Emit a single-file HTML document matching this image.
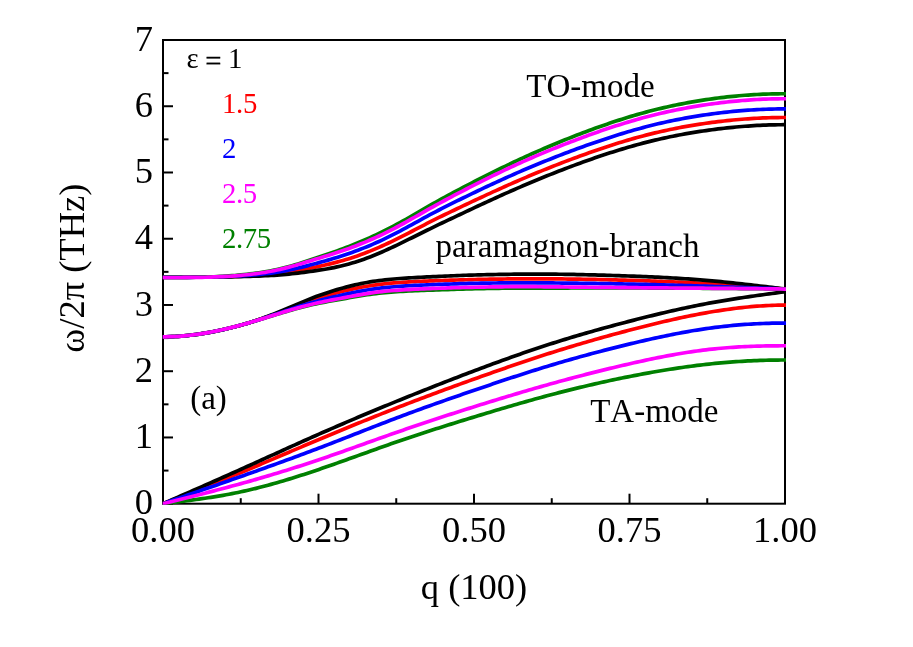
<!DOCTYPE html>
<html>
<head>
<meta charset="utf-8">
<title>Dispersion</title>
<style>
html,body{margin:0;padding:0;background:#ffffff;}
body{width:913px;height:647px;overflow:hidden;}
svg{display:block;will-change:transform;}
text{font-family:"Liberation Serif",serif;font-kerning:none;fill:#000;}
.tick{font-size:36.5px;}
.leg{font-size:28.8px;letter-spacing:-0.35px;}
.ann{font-size:33px;}
.ttl{font-size:36.5px;}
.curves path{fill:none;stroke-width:3.7;stroke-linejoin:round;stroke-linecap:butt;}
.ticks line{stroke:#000;stroke-width:2;}
</style>
</head>
<body>
<svg width="913" height="647" viewBox="0 0 913 647">
<rect x="0" y="0" width="913" height="647" fill="#ffffff"/>
<defs><clipPath id="clip"><rect x="162.8" y="39.0" width="623.3" height="465.7"/></clipPath></defs>
<rect x="163.0" y="40.0" width="622.0" height="463.7" fill="none" stroke="#000" stroke-width="2"/>
<g class="ticks">
<line x1="163.0" y1="503.70" x2="173.0" y2="503.70"/>
<line x1="163.0" y1="470.58" x2="168.5" y2="470.58"/>
<line x1="163.0" y1="437.46" x2="173.0" y2="437.46"/>
<line x1="163.0" y1="404.34" x2="168.5" y2="404.34"/>
<line x1="163.0" y1="371.21" x2="173.0" y2="371.21"/>
<line x1="163.0" y1="338.09" x2="168.5" y2="338.09"/>
<line x1="163.0" y1="304.97" x2="173.0" y2="304.97"/>
<line x1="163.0" y1="271.85" x2="168.5" y2="271.85"/>
<line x1="163.0" y1="238.73" x2="173.0" y2="238.73"/>
<line x1="163.0" y1="205.61" x2="168.5" y2="205.61"/>
<line x1="163.0" y1="172.49" x2="173.0" y2="172.49"/>
<line x1="163.0" y1="139.36" x2="168.5" y2="139.36"/>
<line x1="163.0" y1="106.24" x2="173.0" y2="106.24"/>
<line x1="163.0" y1="73.12" x2="168.5" y2="73.12"/>
<line x1="163.0" y1="40.00" x2="173.0" y2="40.00"/>
<line x1="163.00" y1="503.7" x2="163.00" y2="493.7"/>
<line x1="240.75" y1="503.7" x2="240.75" y2="498.2"/>
<line x1="318.50" y1="503.7" x2="318.50" y2="493.7"/>
<line x1="396.25" y1="503.7" x2="396.25" y2="498.2"/>
<line x1="474.00" y1="503.7" x2="474.00" y2="493.7"/>
<line x1="551.75" y1="503.7" x2="551.75" y2="498.2"/>
<line x1="629.50" y1="503.7" x2="629.50" y2="493.7"/>
<line x1="707.25" y1="503.7" x2="707.25" y2="498.2"/>
<line x1="785.00" y1="503.7" x2="785.00" y2="493.7"/>
</g>
<g class="curves" clip-path="url(#clip)">
<path d="M162.0,503.70 L163.0,503.70 L166.0,502.52 L169.0,501.33 L172.0,500.15 L175.0,498.97 L178.0,497.78 L181.0,496.59 L184.0,495.41 L187.0,494.22 L190.0,493.03 L193.0,491.84 L196.0,490.65 L199.0,489.45 L202.0,488.26 L205.0,487.06 L208.0,485.85 L211.0,484.65 L214.0,483.44 L217.0,482.24 L220.0,481.02 L223.0,479.81 L226.0,478.59 L229.0,477.37 L232.0,476.14 L235.0,474.91 L238.0,473.67 L241.0,472.43 L244.0,471.19 L247.0,469.94 L250.0,468.69 L253.0,467.44 L256.0,466.18 L259.0,464.92 L262.0,463.65 L265.0,462.39 L268.0,461.12 L271.0,459.85 L274.0,458.58 L277.0,457.30 L280.0,456.03 L283.0,454.75 L286.0,453.48 L289.0,452.20 L292.0,450.92 L295.0,449.65 L298.0,448.37 L301.0,447.09 L304.0,445.82 L307.0,444.55 L310.0,443.28 L313.0,442.01 L316.0,440.74 L319.0,439.47 L322.0,438.21 L325.0,436.95 L328.0,435.70 L331.0,434.44 L334.0,433.19 L337.0,431.94 L340.0,430.70 L343.0,429.46 L346.0,428.22 L349.0,426.99 L352.0,425.76 L355.0,424.53 L358.0,423.31 L361.0,422.09 L364.0,420.87 L367.0,419.66 L370.0,418.45 L373.0,417.24 L376.0,416.04 L379.0,414.85 L382.0,413.65 L385.0,412.47 L388.0,411.28 L391.0,410.10 L394.0,408.93 L397.0,407.76 L400.0,406.59 L403.0,405.43 L406.0,404.27 L409.0,403.12 L412.0,401.97 L415.0,400.83 L418.0,399.69 L421.0,398.56 L424.0,397.43 L427.0,396.30 L430.0,395.17 L433.0,394.05 L436.0,392.94 L439.0,391.83 L442.0,390.72 L445.0,389.61 L448.0,388.51 L451.0,387.41 L454.0,386.31 L457.0,385.22 L460.0,384.13 L463.0,383.04 L466.0,381.96 L469.0,380.88 L472.0,379.80 L475.0,378.72 L478.0,377.65 L481.0,376.58 L484.0,375.51 L487.0,374.45 L490.0,373.39 L493.0,372.33 L496.0,371.27 L499.0,370.22 L502.0,369.18 L505.0,368.13 L508.0,367.10 L511.0,366.06 L514.0,365.04 L517.0,364.01 L520.0,362.99 L523.0,361.98 L526.0,360.97 L529.0,359.97 L532.0,358.97 L535.0,357.98 L538.0,357.00 L541.0,356.02 L544.0,355.05 L547.0,354.09 L550.0,353.13 L553.0,352.18 L556.0,351.23 L559.0,350.30 L562.0,349.37 L565.0,348.45 L568.0,347.53 L571.0,346.62 L574.0,345.72 L577.0,344.83 L580.0,343.94 L583.0,343.06 L586.0,342.18 L589.0,341.31 L592.0,340.45 L595.0,339.59 L598.0,338.74 L601.0,337.90 L604.0,337.06 L607.0,336.23 L610.0,335.40 L613.0,334.58 L616.0,333.77 L619.0,332.96 L622.0,332.15 L625.0,331.36 L628.0,330.56 L631.0,329.78 L634.0,329.00 L637.0,328.22 L640.0,327.45 L643.0,326.69 L646.0,325.93 L649.0,325.18 L652.0,324.44 L655.0,323.71 L658.0,322.98 L661.0,322.27 L664.0,321.56 L667.0,320.86 L670.0,320.18 L673.0,319.50 L676.0,318.83 L679.0,318.18 L682.0,317.53 L685.0,316.90 L688.0,316.28 L691.0,315.67 L694.0,315.07 L697.0,314.49 L700.0,313.92 L703.0,313.37 L706.0,312.82 L709.0,312.30 L712.0,311.79 L715.0,311.29 L718.0,310.81 L721.0,310.34 L724.0,309.90 L727.0,309.47 L730.0,309.05 L733.0,308.66 L736.0,308.28 L739.0,307.92 L742.0,307.59 L745.0,307.27 L748.0,306.97 L751.0,306.69 L754.0,306.44 L757.0,306.20 L760.0,305.99 L763.0,305.80 L766.0,305.63 L769.0,305.48 L772.0,305.36 L775.0,305.27 L778.0,305.20 L781.0,305.15 L784.0,305.13 L785.0,305.13 L786.0,305.13" stroke="#ff0000"/>
<path d="M162.0,503.70 L163.0,503.70 L166.0,502.39 L169.0,501.07 L172.0,499.76 L175.0,498.45 L178.0,497.13 L181.0,495.82 L184.0,494.50 L187.0,493.19 L190.0,491.87 L193.0,490.55 L196.0,489.23 L199.0,487.91 L202.0,486.59 L205.0,485.27 L208.0,483.95 L211.0,482.62 L214.0,481.29 L217.0,479.96 L220.0,478.63 L223.0,477.30 L226.0,475.97 L229.0,474.63 L232.0,473.29 L235.0,471.95 L238.0,470.60 L241.0,469.26 L244.0,467.91 L247.0,466.56 L250.0,465.20 L253.0,463.85 L256.0,462.49 L259.0,461.13 L262.0,459.77 L265.0,458.41 L268.0,457.05 L271.0,455.69 L274.0,454.33 L277.0,452.97 L280.0,451.61 L283.0,450.25 L286.0,448.89 L289.0,447.54 L292.0,446.18 L295.0,444.83 L298.0,443.48 L301.0,442.14 L304.0,440.79 L307.0,439.45 L310.0,438.11 L313.0,436.78 L316.0,435.45 L319.0,434.13 L322.0,432.81 L325.0,431.49 L328.0,430.18 L331.0,428.88 L334.0,427.58 L337.0,426.28 L340.0,424.99 L343.0,423.70 L346.0,422.41 L349.0,421.13 L352.0,419.86 L355.0,418.59 L358.0,417.32 L361.0,416.05 L364.0,414.79 L367.0,413.54 L370.0,412.28 L373.0,411.04 L376.0,409.79 L379.0,408.55 L382.0,407.31 L385.0,406.07 L388.0,404.84 L391.0,403.61 L394.0,402.39 L397.0,401.16 L400.0,399.94 L403.0,398.73 L406.0,397.51 L409.0,396.30 L412.0,395.10 L415.0,393.89 L418.0,392.69 L421.0,391.50 L424.0,390.30 L427.0,389.11 L430.0,387.92 L433.0,386.74 L436.0,385.56 L439.0,384.38 L442.0,383.21 L445.0,382.04 L448.0,380.87 L451.0,379.71 L454.0,378.55 L457.0,377.40 L460.0,376.25 L463.0,375.10 L466.0,373.96 L469.0,372.82 L472.0,371.68 L475.0,370.55 L478.0,369.42 L481.0,368.30 L484.0,367.18 L487.0,366.06 L490.0,364.95 L493.0,363.85 L496.0,362.75 L499.0,361.65 L502.0,360.56 L505.0,359.48 L508.0,358.40 L511.0,357.33 L514.0,356.27 L517.0,355.21 L520.0,354.16 L523.0,353.12 L526.0,352.08 L529.0,351.05 L532.0,350.03 L535.0,349.02 L538.0,348.02 L541.0,347.02 L544.0,346.03 L547.0,345.05 L550.0,344.08 L553.0,343.12 L556.0,342.17 L559.0,341.23 L562.0,340.29 L565.0,339.37 L568.0,338.45 L571.0,337.54 L574.0,336.64 L577.0,335.75 L580.0,334.87 L583.0,333.99 L586.0,333.12 L589.0,332.26 L592.0,331.41 L595.0,330.56 L598.0,329.72 L601.0,328.89 L604.0,328.06 L607.0,327.24 L610.0,326.42 L613.0,325.61 L616.0,324.81 L619.0,324.01 L622.0,323.22 L625.0,322.43 L628.0,321.65 L631.0,320.87 L634.0,320.10 L637.0,319.33 L640.0,318.57 L643.0,317.81 L646.0,317.06 L649.0,316.32 L652.0,315.58 L655.0,314.85 L658.0,314.13 L661.0,313.41 L664.0,312.71 L667.0,312.01 L670.0,311.31 L673.0,310.63 L676.0,309.95 L679.0,309.29 L682.0,308.63 L685.0,307.99 L688.0,307.35 L691.0,306.72 L694.0,306.11 L697.0,305.50 L700.0,304.91 L703.0,304.32 L706.0,303.75 L709.0,303.19 L712.0,302.65 L715.0,302.11 L718.0,301.58 L721.0,301.07 L724.0,300.57 L727.0,300.07 L730.0,299.59 L733.0,299.11 L736.0,298.64 L739.0,298.18 L742.0,297.72 L745.0,297.28 L748.0,296.83 L751.0,296.40 L754.0,295.97 L757.0,295.54 L760.0,295.12 L763.0,294.71 L766.0,294.29 L769.0,293.88 L772.0,293.48 L775.0,293.07 L778.0,292.67 L781.0,292.26 L784.0,291.86 L785.0,291.73 L786.0,291.73" stroke="#000000"/>
<path d="M162.0,503.70 L163.0,503.70 L166.0,502.66 L169.0,501.61 L172.0,500.57 L175.0,499.53 L178.0,498.48 L181.0,497.44 L184.0,496.39 L187.0,495.35 L190.0,494.30 L193.0,493.26 L196.0,492.21 L199.0,491.17 L202.0,490.12 L205.0,489.07 L208.0,488.02 L211.0,486.98 L214.0,485.93 L217.0,484.88 L220.0,483.83 L223.0,482.77 L226.0,481.72 L229.0,480.67 L232.0,479.61 L235.0,478.56 L238.0,477.50 L241.0,476.45 L244.0,475.39 L247.0,474.33 L250.0,473.27 L253.0,472.20 L256.0,471.14 L259.0,470.07 L262.0,469.00 L265.0,467.93 L268.0,466.86 L271.0,465.78 L274.0,464.70 L277.0,463.62 L280.0,462.54 L283.0,461.45 L286.0,460.36 L289.0,459.26 L292.0,458.16 L295.0,457.06 L298.0,455.95 L301.0,454.84 L304.0,453.72 L307.0,452.60 L310.0,451.48 L313.0,450.35 L316.0,449.21 L319.0,448.07 L322.0,446.93 L325.0,445.78 L328.0,444.62 L331.0,443.46 L334.0,442.30 L337.0,441.13 L340.0,439.96 L343.0,438.79 L346.0,437.62 L349.0,436.44 L352.0,435.27 L355.0,434.09 L358.0,432.92 L361.0,431.74 L364.0,430.57 L367.0,429.39 L370.0,428.22 L373.0,427.05 L376.0,425.88 L379.0,424.72 L382.0,423.56 L385.0,422.40 L388.0,421.25 L391.0,420.10 L394.0,418.96 L397.0,417.83 L400.0,416.70 L403.0,415.57 L406.0,414.45 L409.0,413.34 L412.0,412.24 L415.0,411.13 L418.0,410.04 L421.0,408.95 L424.0,407.86 L427.0,406.78 L430.0,405.70 L433.0,404.63 L436.0,403.56 L439.0,402.50 L442.0,401.44 L445.0,400.38 L448.0,399.33 L451.0,398.28 L454.0,397.23 L457.0,396.19 L460.0,395.15 L463.0,394.11 L466.0,393.07 L469.0,392.04 L472.0,391.01 L475.0,389.98 L478.0,388.96 L481.0,387.93 L484.0,386.91 L487.0,385.89 L490.0,384.88 L493.0,383.86 L496.0,382.85 L499.0,381.85 L502.0,380.85 L505.0,379.85 L508.0,378.85 L511.0,377.86 L514.0,376.88 L517.0,375.90 L520.0,374.93 L523.0,373.96 L526.0,372.99 L529.0,372.03 L532.0,371.08 L535.0,370.14 L538.0,369.20 L541.0,368.27 L544.0,367.34 L547.0,366.43 L550.0,365.51 L553.0,364.61 L556.0,363.72 L559.0,362.83 L562.0,361.95 L565.0,361.08 L568.0,360.22 L571.0,359.36 L574.0,358.51 L577.0,357.67 L580.0,356.83 L583.0,356.00 L586.0,355.18 L589.0,354.37 L592.0,353.56 L595.0,352.76 L598.0,351.97 L601.0,351.18 L604.0,350.40 L607.0,349.63 L610.0,348.86 L613.0,348.10 L616.0,347.35 L619.0,346.60 L622.0,345.86 L625.0,345.12 L628.0,344.39 L631.0,343.67 L634.0,342.95 L637.0,342.24 L640.0,341.54 L643.0,340.84 L646.0,340.15 L649.0,339.47 L652.0,338.80 L655.0,338.13 L658.0,337.48 L661.0,336.84 L664.0,336.20 L667.0,335.58 L670.0,334.97 L673.0,334.37 L676.0,333.78 L679.0,333.21 L682.0,332.64 L685.0,332.10 L688.0,331.56 L691.0,331.04 L694.0,330.54 L697.0,330.05 L700.0,329.57 L703.0,329.11 L706.0,328.67 L709.0,328.25 L712.0,327.84 L715.0,327.45 L718.0,327.07 L721.0,326.72 L724.0,326.38 L727.0,326.05 L730.0,325.75 L733.0,325.46 L736.0,325.19 L739.0,324.93 L742.0,324.69 L745.0,324.47 L748.0,324.26 L751.0,324.07 L754.0,323.90 L757.0,323.74 L760.0,323.60 L763.0,323.48 L766.0,323.37 L769.0,323.28 L772.0,323.20 L775.0,323.14 L778.0,323.10 L781.0,323.07 L784.0,323.05 L785.0,323.05 L786.0,323.05" stroke="#0000ff"/>
<path d="M162.0,503.70 L163.0,503.70 L166.0,503.33 L169.0,502.97 L172.0,502.60 L175.0,502.23 L178.0,501.86 L181.0,501.48 L184.0,501.10 L187.0,500.71 L190.0,500.32 L193.0,499.91 L196.0,499.50 L199.0,499.08 L202.0,498.66 L205.0,498.22 L208.0,497.76 L211.0,497.30 L214.0,496.82 L217.0,496.33 L220.0,495.83 L223.0,495.31 L226.0,494.77 L229.0,494.21 L232.0,493.64 L235.0,493.05 L238.0,492.44 L241.0,491.80 L244.0,491.15 L247.0,490.48 L250.0,489.78 L253.0,489.07 L256.0,488.33 L259.0,487.58 L262.0,486.81 L265.0,486.02 L268.0,485.21 L271.0,484.39 L274.0,483.55 L277.0,482.70 L280.0,481.83 L283.0,480.94 L286.0,480.05 L289.0,479.13 L292.0,478.21 L295.0,477.27 L298.0,476.32 L301.0,475.36 L304.0,474.39 L307.0,473.41 L310.0,472.41 L313.0,471.41 L316.0,470.40 L319.0,469.38 L322.0,468.35 L325.0,467.32 L328.0,466.28 L331.0,465.23 L334.0,464.18 L337.0,463.12 L340.0,462.05 L343.0,460.99 L346.0,459.92 L349.0,458.85 L352.0,457.77 L355.0,456.70 L358.0,455.62 L361.0,454.54 L364.0,453.46 L367.0,452.39 L370.0,451.31 L373.0,450.24 L376.0,449.17 L379.0,448.10 L382.0,447.03 L385.0,445.97 L388.0,444.92 L391.0,443.87 L394.0,442.82 L397.0,441.78 L400.0,440.75 L403.0,439.73 L406.0,438.71 L409.0,437.70 L412.0,436.69 L415.0,435.69 L418.0,434.70 L421.0,433.71 L424.0,432.73 L427.0,431.76 L430.0,430.78 L433.0,429.82 L436.0,428.86 L439.0,427.90 L442.0,426.95 L445.0,426.00 L448.0,425.05 L451.0,424.11 L454.0,423.18 L457.0,422.24 L460.0,421.31 L463.0,420.38 L466.0,419.46 L469.0,418.54 L472.0,417.62 L475.0,416.70 L478.0,415.78 L481.0,414.87 L484.0,413.96 L487.0,413.05 L490.0,412.15 L493.0,411.25 L496.0,410.35 L499.0,409.45 L502.0,408.56 L505.0,407.68 L508.0,406.80 L511.0,405.92 L514.0,405.04 L517.0,404.18 L520.0,403.31 L523.0,402.45 L526.0,401.60 L529.0,400.76 L532.0,399.91 L535.0,399.08 L538.0,398.25 L541.0,397.43 L544.0,396.61 L547.0,395.81 L550.0,395.00 L553.0,394.21 L556.0,393.42 L559.0,392.64 L562.0,391.87 L565.0,391.11 L568.0,390.35 L571.0,389.61 L574.0,388.86 L577.0,388.13 L580.0,387.40 L583.0,386.69 L586.0,385.98 L589.0,385.27 L592.0,384.58 L595.0,383.89 L598.0,383.21 L601.0,382.54 L604.0,381.87 L607.0,381.21 L610.0,380.56 L613.0,379.92 L616.0,379.29 L619.0,378.66 L622.0,378.04 L625.0,377.43 L628.0,376.83 L631.0,376.23 L634.0,375.65 L637.0,375.07 L640.0,374.50 L643.0,373.93 L646.0,373.38 L649.0,372.83 L652.0,372.30 L655.0,371.77 L658.0,371.25 L661.0,370.74 L664.0,370.24 L667.0,369.75 L670.0,369.28 L673.0,368.81 L676.0,368.35 L679.0,367.90 L682.0,367.47 L685.0,367.04 L688.0,366.63 L691.0,366.23 L694.0,365.84 L697.0,365.46 L700.0,365.09 L703.0,364.74 L706.0,364.40 L709.0,364.07 L712.0,363.75 L715.0,363.45 L718.0,363.16 L721.0,362.88 L724.0,362.62 L727.0,362.36 L730.0,362.12 L733.0,361.90 L736.0,361.68 L739.0,361.48 L742.0,361.30 L745.0,361.12 L748.0,360.96 L751.0,360.81 L754.0,360.67 L757.0,360.55 L760.0,360.43 L763.0,360.33 L766.0,360.25 L769.0,360.17 L772.0,360.11 L775.0,360.06 L778.0,360.03 L781.0,360.01 L784.0,359.99 L785.0,359.99 L786.0,359.99" stroke="#008000"/>
<path d="M162.0,503.70 L163.0,503.70 L166.0,502.96 L169.0,502.21 L172.0,501.47 L175.0,500.72 L178.0,499.98 L181.0,499.23 L184.0,498.48 L187.0,497.73 L190.0,496.98 L193.0,496.22 L196.0,495.46 L199.0,494.70 L202.0,493.94 L205.0,493.17 L208.0,492.40 L211.0,491.63 L214.0,490.85 L217.0,490.07 L220.0,489.28 L223.0,488.49 L226.0,487.69 L229.0,486.89 L232.0,486.08 L235.0,485.27 L238.0,484.45 L241.0,483.62 L244.0,482.79 L247.0,481.95 L250.0,481.10 L253.0,480.25 L256.0,479.39 L259.0,478.52 L262.0,477.65 L265.0,476.77 L268.0,475.88 L271.0,474.99 L274.0,474.09 L277.0,473.18 L280.0,472.26 L283.0,471.34 L286.0,470.41 L289.0,469.47 L292.0,468.53 L295.0,467.58 L298.0,466.62 L301.0,465.66 L304.0,464.68 L307.0,463.70 L310.0,462.71 L313.0,461.72 L316.0,460.72 L319.0,459.71 L322.0,458.69 L325.0,457.66 L328.0,456.63 L331.0,455.60 L334.0,454.55 L337.0,453.50 L340.0,452.45 L343.0,451.39 L346.0,450.33 L349.0,449.27 L352.0,448.20 L355.0,447.13 L358.0,446.06 L361.0,444.99 L364.0,443.92 L367.0,442.85 L370.0,441.77 L373.0,440.70 L376.0,439.63 L379.0,438.56 L382.0,437.50 L385.0,436.43 L388.0,435.37 L391.0,434.31 L394.0,433.26 L397.0,432.21 L400.0,431.17 L403.0,430.13 L406.0,429.09 L409.0,428.07 L412.0,427.04 L415.0,426.02 L418.0,425.01 L421.0,424.00 L424.0,422.99 L427.0,421.99 L430.0,420.99 L433.0,420.00 L436.0,419.01 L439.0,418.02 L442.0,417.04 L445.0,416.06 L448.0,415.09 L451.0,414.12 L454.0,413.15 L457.0,412.19 L460.0,411.23 L463.0,410.27 L466.0,409.32 L469.0,408.37 L472.0,407.42 L475.0,406.48 L478.0,405.54 L481.0,404.60 L484.0,403.66 L487.0,402.73 L490.0,401.80 L493.0,400.88 L496.0,399.96 L499.0,399.04 L502.0,398.12 L505.0,397.21 L508.0,396.31 L511.0,395.41 L514.0,394.51 L517.0,393.61 L520.0,392.72 L523.0,391.84 L526.0,390.96 L529.0,390.08 L532.0,389.21 L535.0,388.34 L538.0,387.48 L541.0,386.62 L544.0,385.77 L547.0,384.92 L550.0,384.08 L553.0,383.24 L556.0,382.41 L559.0,381.59 L562.0,380.77 L565.0,379.95 L568.0,379.14 L571.0,378.34 L574.0,377.54 L577.0,376.75 L580.0,375.96 L583.0,375.18 L586.0,374.41 L589.0,373.64 L592.0,372.88 L595.0,372.12 L598.0,371.37 L601.0,370.62 L604.0,369.88 L607.0,369.15 L610.0,368.42 L613.0,367.70 L616.0,366.98 L619.0,366.27 L622.0,365.57 L625.0,364.87 L628.0,364.18 L631.0,363.50 L634.0,362.82 L637.0,362.15 L640.0,361.48 L643.0,360.83 L646.0,360.18 L649.0,359.54 L652.0,358.91 L655.0,358.29 L658.0,357.68 L661.0,357.09 L664.0,356.50 L667.0,355.93 L670.0,355.37 L673.0,354.82 L676.0,354.28 L679.0,353.76 L682.0,353.26 L685.0,352.77 L688.0,352.29 L691.0,351.83 L694.0,351.39 L697.0,350.97 L700.0,350.56 L703.0,350.17 L706.0,349.80 L709.0,349.45 L712.0,349.12 L715.0,348.80 L718.0,348.51 L721.0,348.23 L724.0,347.97 L727.0,347.73 L730.0,347.51 L733.0,347.30 L736.0,347.10 L739.0,346.92 L742.0,346.76 L745.0,346.61 L748.0,346.48 L751.0,346.35 L754.0,346.24 L757.0,346.15 L760.0,346.06 L763.0,345.99 L766.0,345.93 L769.0,345.87 L772.0,345.83 L775.0,345.80 L778.0,345.78 L781.0,345.76 L784.0,345.75 L785.0,345.75 L786.0,345.75" stroke="#ff00ff"/>
<path d="M162.0,336.80 L163.0,336.80 L166.0,336.78 L169.0,336.73 L172.0,336.63 L175.0,336.49 L178.0,336.32 L181.0,336.11 L184.0,335.86 L187.0,335.58 L190.0,335.26 L193.0,334.91 L196.0,334.52 L199.0,334.10 L202.0,333.65 L205.0,333.17 L208.0,332.66 L211.0,332.11 L214.0,331.54 L217.0,330.94 L220.0,330.31 L223.0,329.65 L226.0,328.96 L229.0,328.25 L232.0,327.51 L235.0,326.74 L238.0,325.94 L241.0,325.12 L244.0,324.27 L247.0,323.40 L250.0,322.49 L253.0,321.56 L256.0,320.60 L259.0,319.62 L262.0,318.61 L265.0,317.58 L268.0,316.53 L271.0,315.46 L274.0,314.38 L277.0,313.28 L280.0,312.17 L283.0,311.05 L286.0,309.93 L289.0,308.79 L292.0,307.66 L295.0,306.53 L298.0,305.41 L301.0,304.29 L304.0,303.19 L307.0,302.12 L310.0,301.06 L313.0,300.03 L316.0,299.03 L319.0,298.05 L322.0,297.11 L325.0,296.20 L328.0,295.31 L331.0,294.45 L334.0,293.62 L337.0,292.81 L340.0,292.03 L343.0,291.27 L346.0,290.54 L349.0,289.84 L352.0,289.16 L355.0,288.51 L358.0,287.89 L361.0,287.30 L364.0,286.74 L367.0,286.22 L370.0,285.73 L373.0,285.27 L376.0,284.85 L379.0,284.46 L382.0,284.11 L385.0,283.78 L388.0,283.48 L391.0,283.21 L394.0,282.95 L397.0,282.72 L400.0,282.50 L403.0,282.30 L406.0,282.12 L409.0,281.94 L412.0,281.77 L415.0,281.62 L418.0,281.47 L421.0,281.33 L424.0,281.20 L427.0,281.07 L430.0,280.94 L433.0,280.83 L436.0,280.71 L439.0,280.60 L442.0,280.49 L445.0,280.38 L448.0,280.28 L451.0,280.18 L454.0,280.08 L457.0,279.99 L460.0,279.90 L463.0,279.81 L466.0,279.73 L469.0,279.65 L472.0,279.58 L475.0,279.50 L478.0,279.44 L481.0,279.37 L484.0,279.31 L487.0,279.26 L490.0,279.20 L493.0,279.16 L496.0,279.11 L499.0,279.07 L502.0,279.03 L505.0,278.99 L508.0,278.96 L511.0,278.93 L514.0,278.91 L517.0,278.89 L520.0,278.87 L523.0,278.85 L526.0,278.84 L529.0,278.83 L532.0,278.83 L535.0,278.83 L538.0,278.83 L541.0,278.84 L544.0,278.85 L547.0,278.86 L550.0,278.87 L553.0,278.89 L556.0,278.91 L559.0,278.93 L562.0,278.96 L565.0,278.99 L568.0,279.03 L571.0,279.06 L574.0,279.10 L577.0,279.14 L580.0,279.19 L583.0,279.24 L586.0,279.29 L589.0,279.34 L592.0,279.40 L595.0,279.46 L598.0,279.52 L601.0,279.59 L604.0,279.65 L607.0,279.73 L610.0,279.80 L613.0,279.87 L616.0,279.95 L619.0,280.03 L622.0,280.11 L625.0,280.20 L628.0,280.28 L631.0,280.37 L634.0,280.46 L637.0,280.55 L640.0,280.65 L643.0,280.74 L646.0,280.84 L649.0,280.94 L652.0,281.05 L655.0,281.15 L658.0,281.26 L661.0,281.37 L664.0,281.49 L667.0,281.61 L670.0,281.73 L673.0,281.86 L676.0,281.99 L679.0,282.13 L682.0,282.27 L685.0,282.42 L688.0,282.57 L691.0,282.73 L694.0,282.89 L697.0,283.06 L700.0,283.23 L703.0,283.41 L706.0,283.59 L709.0,283.78 L712.0,283.97 L715.0,284.16 L718.0,284.36 L721.0,284.56 L724.0,284.76 L727.0,284.97 L730.0,285.18 L733.0,285.40 L736.0,285.61 L739.0,285.83 L742.0,286.05 L745.0,286.27 L748.0,286.49 L751.0,286.70 L754.0,286.92 L757.0,287.14 L760.0,287.36 L763.0,287.58 L766.0,287.79 L769.0,288.01 L772.0,288.22 L775.0,288.44 L778.0,288.65 L781.0,288.87 L784.0,289.08 L785.0,289.15 L786.0,289.15" stroke="#ff0000"/>
<path d="M162.0,336.81 L163.0,336.81 L166.0,336.79 L169.0,336.73 L172.0,336.63 L175.0,336.50 L178.0,336.33 L181.0,336.12 L184.0,335.87 L187.0,335.59 L190.0,335.28 L193.0,334.93 L196.0,334.55 L199.0,334.13 L202.0,333.69 L205.0,333.21 L208.0,332.70 L211.0,332.16 L214.0,331.59 L217.0,330.99 L220.0,330.36 L223.0,329.70 L226.0,329.02 L229.0,328.31 L232.0,327.57 L235.0,326.80 L238.0,326.00 L241.0,325.17 L244.0,324.31 L247.0,323.41 L250.0,322.48 L253.0,321.52 L256.0,320.52 L259.0,319.48 L262.0,318.42 L265.0,317.32 L268.0,316.20 L271.0,315.05 L274.0,313.88 L277.0,312.68 L280.0,311.46 L283.0,310.22 L286.0,308.97 L289.0,307.70 L292.0,306.42 L295.0,305.14 L298.0,303.87 L301.0,302.60 L304.0,301.35 L307.0,300.12 L310.0,298.92 L313.0,297.74 L316.0,296.60 L319.0,295.50 L322.0,294.43 L325.0,293.40 L328.0,292.40 L331.0,291.44 L334.0,290.51 L337.0,289.61 L340.0,288.75 L343.0,287.91 L346.0,287.11 L349.0,286.35 L352.0,285.61 L355.0,284.91 L358.0,284.24 L361.0,283.61 L364.0,283.02 L367.0,282.46 L370.0,281.93 L373.0,281.45 L376.0,281.01 L379.0,280.60 L382.0,280.22 L385.0,279.88 L388.0,279.56 L391.0,279.27 L394.0,279.00 L397.0,278.76 L400.0,278.53 L403.0,278.32 L406.0,278.12 L409.0,277.93 L412.0,277.75 L415.0,277.58 L418.0,277.42 L421.0,277.27 L424.0,277.12 L427.0,276.97 L430.0,276.83 L433.0,276.68 L436.0,276.54 L439.0,276.40 L442.0,276.26 L445.0,276.12 L448.0,275.98 L451.0,275.85 L454.0,275.73 L457.0,275.60 L460.0,275.49 L463.0,275.38 L466.0,275.27 L469.0,275.17 L472.0,275.08 L475.0,274.99 L478.0,274.90 L481.0,274.82 L484.0,274.74 L487.0,274.67 L490.0,274.61 L493.0,274.54 L496.0,274.48 L499.0,274.43 L502.0,274.38 L505.0,274.33 L508.0,274.29 L511.0,274.25 L514.0,274.21 L517.0,274.18 L520.0,274.16 L523.0,274.14 L526.0,274.12 L529.0,274.11 L532.0,274.10 L535.0,274.10 L538.0,274.10 L541.0,274.10 L544.0,274.11 L547.0,274.13 L550.0,274.15 L553.0,274.17 L556.0,274.20 L559.0,274.23 L562.0,274.27 L565.0,274.32 L568.0,274.36 L571.0,274.41 L574.0,274.47 L577.0,274.53 L580.0,274.59 L583.0,274.66 L586.0,274.73 L589.0,274.80 L592.0,274.88 L595.0,274.96 L598.0,275.04 L601.0,275.13 L604.0,275.22 L607.0,275.31 L610.0,275.40 L613.0,275.50 L616.0,275.59 L619.0,275.69 L622.0,275.79 L625.0,275.89 L628.0,276.00 L631.0,276.11 L634.0,276.22 L637.0,276.33 L640.0,276.44 L643.0,276.56 L646.0,276.69 L649.0,276.81 L652.0,276.94 L655.0,277.08 L658.0,277.22 L661.0,277.36 L664.0,277.51 L667.0,277.67 L670.0,277.83 L673.0,278.00 L676.0,278.17 L679.0,278.35 L682.0,278.54 L685.0,278.74 L688.0,278.94 L691.0,279.15 L694.0,279.37 L697.0,279.60 L700.0,279.83 L703.0,280.07 L706.0,280.32 L709.0,280.58 L712.0,280.84 L715.0,281.12 L718.0,281.40 L721.0,281.69 L724.0,281.99 L727.0,282.29 L730.0,282.60 L733.0,282.92 L736.0,283.25 L739.0,283.57 L742.0,283.91 L745.0,284.25 L748.0,284.59 L751.0,284.93 L754.0,285.28 L757.0,285.63 L760.0,285.99 L763.0,286.34 L766.0,286.70 L769.0,287.05 L772.0,287.41 L775.0,287.77 L778.0,288.13 L781.0,288.49 L784.0,288.86 L785.0,288.98 L786.0,288.98" stroke="#000000"/>
<path d="M162.0,336.80 L163.0,336.80 L166.0,336.78 L169.0,336.72 L172.0,336.62 L175.0,336.49 L178.0,336.31 L181.0,336.10 L184.0,335.85 L187.0,335.57 L190.0,335.25 L193.0,334.89 L196.0,334.50 L199.0,334.08 L202.0,333.63 L205.0,333.14 L208.0,332.63 L211.0,332.08 L214.0,331.50 L217.0,330.90 L220.0,330.26 L223.0,329.60 L226.0,328.91 L229.0,328.19 L232.0,327.45 L235.0,326.68 L238.0,325.89 L241.0,325.07 L244.0,324.23 L247.0,323.37 L250.0,322.49 L253.0,321.58 L256.0,320.65 L259.0,319.71 L262.0,318.75 L265.0,317.78 L268.0,316.79 L271.0,315.80 L274.0,314.79 L277.0,313.79 L280.0,312.78 L283.0,311.77 L286.0,310.76 L289.0,309.76 L292.0,308.77 L295.0,307.79 L298.0,306.82 L301.0,305.86 L304.0,304.92 L307.0,304.01 L310.0,303.12 L313.0,302.25 L316.0,301.41 L319.0,300.60 L322.0,299.82 L325.0,299.05 L328.0,298.31 L331.0,297.59 L334.0,296.88 L337.0,296.19 L340.0,295.51 L343.0,294.84 L346.0,294.18 L349.0,293.53 L352.0,292.90 L355.0,292.28 L358.0,291.68 L361.0,291.11 L364.0,290.56 L367.0,290.04 L370.0,289.54 L373.0,289.09 L376.0,288.67 L379.0,288.28 L382.0,287.92 L385.0,287.59 L388.0,287.29 L391.0,287.02 L394.0,286.76 L397.0,286.53 L400.0,286.31 L403.0,286.11 L406.0,285.92 L409.0,285.75 L412.0,285.58 L415.0,285.42 L418.0,285.28 L421.0,285.14 L424.0,285.00 L427.0,284.87 L430.0,284.75 L433.0,284.63 L436.0,284.51 L439.0,284.40 L442.0,284.29 L445.0,284.18 L448.0,284.08 L451.0,283.98 L454.0,283.88 L457.0,283.79 L460.0,283.70 L463.0,283.62 L466.0,283.54 L469.0,283.46 L472.0,283.39 L475.0,283.32 L478.0,283.26 L481.0,283.20 L484.0,283.15 L487.0,283.10 L490.0,283.05 L493.0,283.01 L496.0,282.98 L499.0,282.95 L502.0,282.92 L505.0,282.90 L508.0,282.88 L511.0,282.87 L514.0,282.85 L517.0,282.84 L520.0,282.84 L523.0,282.84 L526.0,282.84 L529.0,282.84 L532.0,282.85 L535.0,282.86 L538.0,282.87 L541.0,282.88 L544.0,282.90 L547.0,282.92 L550.0,282.94 L553.0,282.96 L556.0,282.99 L559.0,283.01 L562.0,283.04 L565.0,283.07 L568.0,283.10 L571.0,283.13 L574.0,283.17 L577.0,283.21 L580.0,283.24 L583.0,283.28 L586.0,283.32 L589.0,283.37 L592.0,283.41 L595.0,283.46 L598.0,283.50 L601.0,283.55 L604.0,283.60 L607.0,283.65 L610.0,283.71 L613.0,283.76 L616.0,283.82 L619.0,283.87 L622.0,283.93 L625.0,283.99 L628.0,284.05 L631.0,284.12 L634.0,284.18 L637.0,284.25 L640.0,284.32 L643.0,284.39 L646.0,284.46 L649.0,284.54 L652.0,284.61 L655.0,284.69 L658.0,284.77 L661.0,284.85 L664.0,284.93 L667.0,285.02 L670.0,285.10 L673.0,285.19 L676.0,285.28 L679.0,285.36 L682.0,285.45 L685.0,285.54 L688.0,285.63 L691.0,285.72 L694.0,285.81 L697.0,285.91 L700.0,286.00 L703.0,286.10 L706.0,286.19 L709.0,286.29 L712.0,286.39 L715.0,286.49 L718.0,286.59 L721.0,286.69 L724.0,286.80 L727.0,286.91 L730.0,287.01 L733.0,287.12 L736.0,287.23 L739.0,287.34 L742.0,287.45 L745.0,287.56 L748.0,287.68 L751.0,287.79 L754.0,287.90 L757.0,288.02 L760.0,288.13 L763.0,288.24 L766.0,288.36 L769.0,288.47 L772.0,288.59 L775.0,288.70 L778.0,288.82 L781.0,288.93 L784.0,289.05 L785.0,289.09 L786.0,289.09" stroke="#0000ff"/>
<path d="M162.0,336.80 L163.0,336.80 L166.0,336.78 L169.0,336.72 L172.0,336.62 L175.0,336.48 L178.0,336.30 L181.0,336.09 L184.0,335.84 L187.0,335.55 L190.0,335.23 L193.0,334.87 L196.0,334.48 L199.0,334.06 L202.0,333.60 L205.0,333.11 L208.0,332.59 L211.0,332.04 L214.0,331.46 L217.0,330.85 L220.0,330.21 L223.0,329.55 L226.0,328.85 L229.0,328.14 L232.0,327.39 L235.0,326.62 L238.0,325.84 L241.0,325.03 L244.0,324.20 L247.0,323.35 L250.0,322.49 L253.0,321.62 L256.0,320.73 L259.0,319.83 L262.0,318.92 L265.0,318.00 L268.0,317.08 L271.0,316.16 L274.0,315.25 L277.0,314.33 L280.0,313.43 L283.0,312.53 L286.0,311.64 L289.0,310.77 L292.0,309.91 L295.0,309.07 L298.0,308.26 L301.0,307.46 L304.0,306.69 L307.0,305.94 L310.0,305.22 L313.0,304.54 L316.0,303.88 L319.0,303.26 L322.0,302.66 L325.0,302.08 L328.0,301.52 L331.0,300.97 L334.0,300.43 L337.0,299.90 L340.0,299.37 L343.0,298.85 L346.0,298.31 L349.0,297.78 L352.0,297.25 L355.0,296.72 L358.0,296.21 L361.0,295.71 L364.0,295.22 L367.0,294.76 L370.0,294.32 L373.0,293.92 L376.0,293.54 L379.0,293.19 L382.0,292.87 L385.0,292.58 L388.0,292.31 L391.0,292.07 L394.0,291.84 L397.0,291.64 L400.0,291.45 L403.0,291.28 L406.0,291.12 L409.0,290.97 L412.0,290.83 L415.0,290.71 L418.0,290.59 L421.0,290.47 L424.0,290.37 L427.0,290.26 L430.0,290.16 L433.0,290.06 L436.0,289.96 L439.0,289.86 L442.0,289.76 L445.0,289.66 L448.0,289.56 L451.0,289.46 L454.0,289.36 L457.0,289.27 L460.0,289.18 L463.0,289.09 L466.0,289.00 L469.0,288.91 L472.0,288.83 L475.0,288.75 L478.0,288.67 L481.0,288.60 L484.0,288.54 L487.0,288.48 L490.0,288.42 L493.0,288.37 L496.0,288.32 L499.0,288.28 L502.0,288.24 L505.0,288.21 L508.0,288.18 L511.0,288.15 L514.0,288.13 L517.0,288.11 L520.0,288.09 L523.0,288.08 L526.0,288.07 L529.0,288.06 L532.0,288.06 L535.0,288.06 L538.0,288.05 L541.0,288.05 L544.0,288.05 L547.0,288.05 L550.0,288.05 L553.0,288.05 L556.0,288.04 L559.0,288.04 L562.0,288.04 L565.0,288.03 L568.0,288.03 L571.0,288.02 L574.0,288.02 L577.0,288.01 L580.0,288.00 L583.0,288.00 L586.0,287.99 L589.0,287.99 L592.0,287.98 L595.0,287.98 L598.0,287.97 L601.0,287.97 L604.0,287.97 L607.0,287.96 L610.0,287.96 L613.0,287.96 L616.0,287.96 L619.0,287.96 L622.0,287.97 L625.0,287.97 L628.0,287.98 L631.0,287.98 L634.0,287.99 L637.0,287.99 L640.0,288.00 L643.0,288.01 L646.0,288.02 L649.0,288.03 L652.0,288.04 L655.0,288.05 L658.0,288.06 L661.0,288.07 L664.0,288.09 L667.0,288.10 L670.0,288.11 L673.0,288.13 L676.0,288.14 L679.0,288.16 L682.0,288.17 L685.0,288.19 L688.0,288.20 L691.0,288.22 L694.0,288.24 L697.0,288.25 L700.0,288.27 L703.0,288.29 L706.0,288.31 L709.0,288.33 L712.0,288.34 L715.0,288.36 L718.0,288.38 L721.0,288.40 L724.0,288.43 L727.0,288.45 L730.0,288.47 L733.0,288.49 L736.0,288.52 L739.0,288.54 L742.0,288.57 L745.0,288.59 L748.0,288.62 L751.0,288.65 L754.0,288.68 L757.0,288.71 L760.0,288.74 L763.0,288.77 L766.0,288.81 L769.0,288.84 L772.0,288.88 L775.0,288.91 L778.0,288.95 L781.0,288.99 L784.0,289.02 L785.0,289.03 L786.0,289.03" stroke="#008000"/>
<path d="M162.0,336.80 L163.0,336.80 L166.0,336.78 L169.0,336.72 L172.0,336.62 L175.0,336.48 L178.0,336.31 L181.0,336.09 L184.0,335.84 L187.0,335.56 L190.0,335.24 L193.0,334.88 L196.0,334.49 L199.0,334.07 L202.0,333.61 L205.0,333.12 L208.0,332.60 L211.0,332.05 L214.0,331.47 L217.0,330.87 L220.0,330.23 L223.0,329.56 L226.0,328.87 L229.0,328.15 L232.0,327.41 L235.0,326.64 L238.0,325.85 L241.0,325.04 L244.0,324.21 L247.0,323.35 L250.0,322.49 L253.0,321.60 L256.0,320.70 L259.0,319.79 L262.0,318.86 L265.0,317.93 L268.0,316.99 L271.0,316.05 L274.0,315.11 L277.0,314.17 L280.0,313.24 L283.0,312.31 L286.0,311.39 L289.0,310.49 L292.0,309.60 L295.0,308.72 L298.0,307.87 L301.0,307.03 L304.0,306.22 L307.0,305.44 L310.0,304.69 L313.0,303.96 L316.0,303.27 L319.0,302.61 L322.0,301.97 L325.0,301.36 L328.0,300.76 L331.0,300.18 L334.0,299.61 L337.0,299.04 L340.0,298.48 L343.0,297.92 L346.0,297.35 L349.0,296.78 L352.0,296.22 L355.0,295.66 L358.0,295.11 L361.0,294.58 L364.0,294.06 L367.0,293.58 L370.0,293.11 L373.0,292.68 L376.0,292.28 L379.0,291.92 L382.0,291.58 L385.0,291.28 L388.0,290.99 L391.0,290.73 L394.0,290.50 L397.0,290.28 L400.0,290.07 L403.0,289.88 L406.0,289.70 L409.0,289.53 L412.0,289.36 L415.0,289.21 L418.0,289.07 L421.0,288.93 L424.0,288.80 L427.0,288.67 L430.0,288.56 L433.0,288.44 L436.0,288.33 L439.0,288.23 L442.0,288.13 L445.0,288.03 L448.0,287.93 L451.0,287.84 L454.0,287.76 L457.0,287.67 L460.0,287.59 L463.0,287.51 L466.0,287.44 L469.0,287.37 L472.0,287.30 L475.0,287.23 L478.0,287.17 L481.0,287.11 L484.0,287.05 L487.0,287.00 L490.0,286.95 L493.0,286.90 L496.0,286.86 L499.0,286.82 L502.0,286.79 L505.0,286.76 L508.0,286.73 L511.0,286.71 L514.0,286.69 L517.0,286.68 L520.0,286.68 L523.0,286.68 L526.0,286.68 L529.0,286.69 L532.0,286.70 L535.0,286.72 L538.0,286.73 L541.0,286.76 L544.0,286.78 L547.0,286.80 L550.0,286.83 L553.0,286.86 L556.0,286.89 L559.0,286.92 L562.0,286.95 L565.0,286.98 L568.0,287.01 L571.0,287.04 L574.0,287.07 L577.0,287.10 L580.0,287.14 L583.0,287.17 L586.0,287.20 L589.0,287.23 L592.0,287.27 L595.0,287.30 L598.0,287.33 L601.0,287.36 L604.0,287.39 L607.0,287.43 L610.0,287.46 L613.0,287.49 L616.0,287.52 L619.0,287.55 L622.0,287.58 L625.0,287.61 L628.0,287.64 L631.0,287.67 L634.0,287.70 L637.0,287.72 L640.0,287.75 L643.0,287.78 L646.0,287.80 L649.0,287.83 L652.0,287.85 L655.0,287.88 L658.0,287.90 L661.0,287.93 L664.0,287.95 L667.0,287.97 L670.0,287.99 L673.0,288.01 L676.0,288.04 L679.0,288.06 L682.0,288.08 L685.0,288.10 L688.0,288.12 L691.0,288.14 L694.0,288.16 L697.0,288.18 L700.0,288.20 L703.0,288.22 L706.0,288.24 L709.0,288.26 L712.0,288.28 L715.0,288.30 L718.0,288.33 L721.0,288.35 L724.0,288.37 L727.0,288.40 L730.0,288.42 L733.0,288.45 L736.0,288.48 L739.0,288.51 L742.0,288.53 L745.0,288.56 L748.0,288.59 L751.0,288.63 L754.0,288.66 L757.0,288.69 L760.0,288.73 L763.0,288.76 L766.0,288.80 L769.0,288.84 L772.0,288.87 L775.0,288.91 L778.0,288.95 L781.0,288.99 L784.0,289.03 L785.0,289.04 L786.0,289.04" stroke="#ff00ff"/>
<path d="M162.0,277.31 L163.0,277.31 L166.0,277.31 L169.0,277.31 L172.0,277.31 L175.0,277.31 L178.0,277.31 L181.0,277.30 L184.0,277.29 L187.0,277.28 L190.0,277.27 L193.0,277.25 L196.0,277.23 L199.0,277.20 L202.0,277.17 L205.0,277.13 L208.0,277.09 L211.0,277.04 L214.0,276.99 L217.0,276.93 L220.0,276.86 L223.0,276.79 L226.0,276.71 L229.0,276.62 L232.0,276.52 L235.0,276.41 L238.0,276.29 L241.0,276.17 L244.0,276.03 L247.0,275.88 L250.0,275.72 L253.0,275.55 L256.0,275.37 L259.0,275.18 L262.0,274.97 L265.0,274.74 L268.0,274.49 L271.0,274.22 L274.0,273.92 L277.0,273.60 L280.0,273.25 L283.0,272.87 L286.0,272.45 L289.0,272.01 L292.0,271.54 L295.0,271.04 L298.0,270.52 L301.0,269.98 L304.0,269.41 L307.0,268.83 L310.0,268.24 L313.0,267.63 L316.0,267.01 L319.0,266.37 L322.0,265.72 L325.0,265.05 L328.0,264.36 L331.0,263.64 L334.0,262.90 L337.0,262.12 L340.0,261.31 L343.0,260.47 L346.0,259.58 L349.0,258.66 L352.0,257.70 L355.0,256.70 L358.0,255.67 L361.0,254.59 L364.0,253.48 L367.0,252.33 L370.0,251.14 L373.0,249.91 L376.0,248.65 L379.0,247.35 L382.0,246.01 L385.0,244.65 L388.0,243.25 L391.0,241.83 L394.0,240.37 L397.0,238.90 L400.0,237.40 L403.0,235.89 L406.0,234.35 L409.0,232.81 L412.0,231.25 L415.0,229.69 L418.0,228.13 L421.0,226.58 L424.0,225.03 L427.0,223.48 L430.0,221.96 L433.0,220.44 L436.0,218.94 L439.0,217.46 L442.0,215.99 L445.0,214.53 L448.0,213.08 L451.0,211.64 L454.0,210.21 L457.0,208.78 L460.0,207.35 L463.0,205.93 L466.0,204.51 L469.0,203.10 L472.0,201.68 L475.0,200.28 L478.0,198.87 L481.0,197.47 L484.0,196.08 L487.0,194.69 L490.0,193.31 L493.0,191.93 L496.0,190.56 L499.0,189.20 L502.0,187.84 L505.0,186.50 L508.0,185.16 L511.0,183.83 L514.0,182.51 L517.0,181.20 L520.0,179.90 L523.0,178.61 L526.0,177.33 L529.0,176.06 L532.0,174.81 L535.0,173.56 L538.0,172.32 L541.0,171.09 L544.0,169.88 L547.0,168.67 L550.0,167.47 L553.0,166.29 L556.0,165.11 L559.0,163.94 L562.0,162.79 L565.0,161.64 L568.0,160.51 L571.0,159.38 L574.0,158.27 L577.0,157.16 L580.0,156.06 L583.0,154.98 L586.0,153.90 L589.0,152.84 L592.0,151.78 L595.0,150.74 L598.0,149.71 L601.0,148.69 L604.0,147.68 L607.0,146.69 L610.0,145.71 L613.0,144.74 L616.0,143.79 L619.0,142.85 L622.0,141.92 L625.0,141.02 L628.0,140.13 L631.0,139.25 L634.0,138.39 L637.0,137.56 L640.0,136.73 L643.0,135.93 L646.0,135.15 L649.0,134.38 L652.0,133.64 L655.0,132.91 L658.0,132.20 L661.0,131.51 L664.0,130.84 L667.0,130.19 L670.0,129.55 L673.0,128.94 L676.0,128.34 L679.0,127.76 L682.0,127.19 L685.0,126.65 L688.0,126.12 L691.0,125.61 L694.0,125.11 L697.0,124.63 L700.0,124.16 L703.0,123.71 L706.0,123.27 L709.0,122.85 L712.0,122.45 L715.0,122.05 L718.0,121.68 L721.0,121.32 L724.0,120.97 L727.0,120.64 L730.0,120.33 L733.0,120.03 L736.0,119.75 L739.0,119.48 L742.0,119.23 L745.0,119.00 L748.0,118.78 L751.0,118.58 L754.0,118.40 L757.0,118.23 L760.0,118.08 L763.0,117.95 L766.0,117.83 L769.0,117.73 L772.0,117.65 L775.0,117.58 L778.0,117.54 L781.0,117.50 L784.0,117.49 L785.0,117.49 L786.0,117.49" stroke="#ff0000"/>
<path d="M162.0,277.26 L163.0,277.26 L166.0,277.26 L169.0,277.26 L172.0,277.26 L175.0,277.26 L178.0,277.25 L181.0,277.25 L184.0,277.24 L187.0,277.24 L190.0,277.23 L193.0,277.22 L196.0,277.20 L199.0,277.19 L202.0,277.17 L205.0,277.15 L208.0,277.12 L211.0,277.09 L214.0,277.06 L217.0,277.03 L220.0,276.99 L223.0,276.94 L226.0,276.90 L229.0,276.84 L232.0,276.79 L235.0,276.73 L238.0,276.66 L241.0,276.59 L244.0,276.51 L247.0,276.43 L250.0,276.34 L253.0,276.24 L256.0,276.14 L259.0,276.03 L262.0,275.91 L265.0,275.77 L268.0,275.63 L271.0,275.47 L274.0,275.29 L277.0,275.09 L280.0,274.87 L283.0,274.63 L286.0,274.36 L289.0,274.07 L292.0,273.76 L295.0,273.43 L298.0,273.08 L301.0,272.71 L304.0,272.33 L307.0,271.93 L310.0,271.51 L313.0,271.09 L316.0,270.65 L319.0,270.19 L322.0,269.72 L325.0,269.23 L328.0,268.70 L331.0,268.15 L334.0,267.56 L337.0,266.93 L340.0,266.26 L343.0,265.54 L346.0,264.77 L349.0,263.95 L352.0,263.08 L355.0,262.17 L358.0,261.21 L361.0,260.20 L364.0,259.14 L367.0,258.05 L370.0,256.91 L373.0,255.73 L376.0,254.51 L379.0,253.25 L382.0,251.96 L385.0,250.64 L388.0,249.29 L391.0,247.91 L394.0,246.50 L397.0,245.08 L400.0,243.63 L403.0,242.17 L406.0,240.70 L409.0,239.21 L412.0,237.72 L415.0,236.23 L418.0,234.73 L421.0,233.24 L424.0,231.75 L427.0,230.27 L430.0,228.79 L433.0,227.33 L436.0,225.87 L439.0,224.43 L442.0,222.99 L445.0,221.56 L448.0,220.14 L451.0,218.72 L454.0,217.30 L457.0,215.88 L460.0,214.47 L463.0,213.06 L466.0,211.65 L469.0,210.25 L472.0,208.84 L475.0,207.44 L478.0,206.04 L481.0,204.65 L484.0,203.26 L487.0,201.87 L490.0,200.49 L493.0,199.12 L496.0,197.75 L499.0,196.39 L502.0,195.03 L505.0,193.68 L508.0,192.35 L511.0,191.02 L514.0,189.69 L517.0,188.38 L520.0,187.08 L523.0,185.79 L526.0,184.51 L529.0,183.24 L532.0,181.97 L535.0,180.72 L538.0,179.48 L541.0,178.25 L544.0,177.03 L547.0,175.82 L550.0,174.62 L553.0,173.43 L556.0,172.25 L559.0,171.08 L562.0,169.92 L565.0,168.77 L568.0,167.63 L571.0,166.50 L574.0,165.38 L577.0,164.28 L580.0,163.18 L583.0,162.10 L586.0,161.02 L589.0,159.96 L592.0,158.91 L595.0,157.87 L598.0,156.84 L601.0,155.83 L604.0,154.82 L607.0,153.84 L610.0,152.86 L613.0,151.90 L616.0,150.95 L619.0,150.02 L622.0,149.11 L625.0,148.20 L628.0,147.32 L631.0,146.45 L634.0,145.60 L637.0,144.77 L640.0,143.95 L643.0,143.15 L646.0,142.37 L649.0,141.61 L652.0,140.87 L655.0,140.15 L658.0,139.45 L661.0,138.76 L664.0,138.09 L667.0,137.44 L670.0,136.81 L673.0,136.20 L676.0,135.60 L679.0,135.03 L682.0,134.47 L685.0,133.92 L688.0,133.40 L691.0,132.88 L694.0,132.39 L697.0,131.91 L700.0,131.44 L703.0,130.99 L706.0,130.56 L709.0,130.13 L712.0,129.73 L715.0,129.33 L718.0,128.95 L721.0,128.59 L724.0,128.24 L727.0,127.91 L730.0,127.59 L733.0,127.29 L736.0,127.01 L739.0,126.74 L742.0,126.49 L745.0,126.25 L748.0,126.03 L751.0,125.83 L754.0,125.64 L757.0,125.47 L760.0,125.32 L763.0,125.18 L766.0,125.07 L769.0,124.97 L772.0,124.88 L775.0,124.82 L778.0,124.77 L781.0,124.73 L784.0,124.72 L785.0,124.72 L786.0,124.72" stroke="#000000"/>
<path d="M162.0,277.36 L163.0,277.36 L166.0,277.36 L169.0,277.36 L172.0,277.36 L175.0,277.35 L178.0,277.35 L181.0,277.34 L184.0,277.33 L187.0,277.31 L190.0,277.29 L193.0,277.27 L196.0,277.24 L199.0,277.20 L202.0,277.16 L205.0,277.11 L208.0,277.05 L211.0,276.98 L214.0,276.91 L217.0,276.83 L220.0,276.73 L223.0,276.63 L226.0,276.52 L229.0,276.39 L232.0,276.25 L235.0,276.10 L238.0,275.94 L241.0,275.76 L244.0,275.57 L247.0,275.37 L250.0,275.15 L253.0,274.91 L256.0,274.66 L259.0,274.38 L262.0,274.09 L265.0,273.77 L268.0,273.43 L271.0,273.06 L274.0,272.65 L277.0,272.21 L280.0,271.73 L283.0,271.22 L286.0,270.66 L289.0,270.06 L292.0,269.43 L295.0,268.76 L298.0,268.07 L301.0,267.34 L304.0,266.60 L307.0,265.84 L310.0,265.06 L313.0,264.27 L316.0,263.47 L319.0,262.65 L322.0,261.83 L325.0,260.99 L328.0,260.13 L331.0,259.25 L334.0,258.35 L337.0,257.43 L340.0,256.49 L343.0,255.52 L346.0,254.52 L349.0,253.49 L352.0,252.43 L355.0,251.34 L358.0,250.23 L361.0,249.07 L364.0,247.89 L367.0,246.67 L370.0,245.42 L373.0,244.13 L376.0,242.81 L379.0,241.45 L382.0,240.07 L385.0,238.64 L388.0,237.19 L391.0,235.71 L394.0,234.19 L397.0,232.65 L400.0,231.08 L403.0,229.49 L406.0,227.88 L409.0,226.24 L412.0,224.60 L415.0,222.95 L418.0,221.29 L421.0,219.64 L424.0,217.99 L427.0,216.36 L430.0,214.74 L433.0,213.14 L436.0,211.56 L439.0,210.00 L442.0,208.46 L445.0,206.93 L448.0,205.42 L451.0,203.92 L454.0,202.43 L457.0,200.94 L460.0,199.47 L463.0,198.01 L466.0,196.55 L469.0,195.10 L472.0,193.66 L475.0,192.22 L478.0,190.79 L481.0,189.37 L484.0,187.95 L487.0,186.54 L490.0,185.14 L493.0,183.74 L496.0,182.36 L499.0,180.98 L502.0,179.61 L505.0,178.25 L508.0,176.90 L511.0,175.57 L514.0,174.24 L517.0,172.92 L520.0,171.62 L523.0,170.32 L526.0,169.04 L529.0,167.77 L532.0,166.50 L535.0,165.25 L538.0,164.02 L541.0,162.79 L544.0,161.57 L547.0,160.36 L550.0,159.17 L553.0,157.98 L556.0,156.80 L559.0,155.64 L562.0,154.48 L565.0,153.34 L568.0,152.21 L571.0,151.08 L574.0,149.97 L577.0,148.86 L580.0,147.77 L583.0,146.68 L586.0,145.61 L589.0,144.55 L592.0,143.49 L595.0,142.45 L598.0,141.42 L601.0,140.40 L604.0,139.40 L607.0,138.40 L610.0,137.42 L613.0,136.45 L616.0,135.50 L619.0,134.56 L622.0,133.63 L625.0,132.72 L628.0,131.82 L631.0,130.95 L634.0,130.08 L637.0,129.24 L640.0,128.41 L643.0,127.60 L646.0,126.81 L649.0,126.03 L652.0,125.28 L655.0,124.54 L658.0,123.82 L661.0,123.12 L664.0,122.44 L667.0,121.78 L670.0,121.14 L673.0,120.51 L676.0,119.90 L679.0,119.31 L682.0,118.74 L685.0,118.18 L688.0,117.65 L691.0,117.12 L694.0,116.62 L697.0,116.13 L700.0,115.65 L703.0,115.19 L706.0,114.75 L709.0,114.32 L712.0,113.91 L715.0,113.51 L718.0,113.12 L721.0,112.76 L724.0,112.40 L727.0,112.07 L730.0,111.75 L733.0,111.45 L736.0,111.16 L739.0,110.89 L742.0,110.64 L745.0,110.40 L748.0,110.18 L751.0,109.98 L754.0,109.80 L757.0,109.63 L760.0,109.48 L763.0,109.34 L766.0,109.23 L769.0,109.13 L772.0,109.04 L775.0,108.98 L778.0,108.93 L781.0,108.90 L784.0,108.88 L785.0,108.88 L786.0,108.88" stroke="#0000ff"/>
<path d="M162.0,277.45 L163.0,277.45 L166.0,277.45 L169.0,277.45 L172.0,277.45 L175.0,277.44 L178.0,277.43 L181.0,277.42 L184.0,277.40 L187.0,277.37 L190.0,277.34 L193.0,277.30 L196.0,277.26 L199.0,277.20 L202.0,277.13 L205.0,277.05 L208.0,276.96 L211.0,276.86 L214.0,276.74 L217.0,276.61 L220.0,276.46 L223.0,276.30 L226.0,276.12 L229.0,275.92 L232.0,275.70 L235.0,275.47 L238.0,275.21 L241.0,274.93 L244.0,274.63 L247.0,274.31 L250.0,273.96 L253.0,273.59 L256.0,273.20 L259.0,272.77 L262.0,272.32 L265.0,271.83 L268.0,271.31 L271.0,270.75 L274.0,270.16 L277.0,269.52 L280.0,268.84 L283.0,268.12 L286.0,267.35 L289.0,266.54 L292.0,265.69 L295.0,264.81 L298.0,263.90 L301.0,262.96 L304.0,262.01 L307.0,261.04 L310.0,260.05 L313.0,259.06 L316.0,258.07 L319.0,257.07 L322.0,256.07 L325.0,255.05 L328.0,254.03 L331.0,252.99 L334.0,251.94 L337.0,250.87 L340.0,249.78 L343.0,248.68 L346.0,247.54 L349.0,246.39 L352.0,245.21 L355.0,244.00 L358.0,242.77 L361.0,241.52 L364.0,240.23 L367.0,238.92 L370.0,237.58 L373.0,236.22 L376.0,234.82 L379.0,233.39 L382.0,231.94 L385.0,230.45 L388.0,228.94 L391.0,227.39 L394.0,225.82 L397.0,224.22 L400.0,222.58 L403.0,220.92 L406.0,219.24 L409.0,217.53 L412.0,215.81 L415.0,214.07 L418.0,212.33 L421.0,210.59 L424.0,208.85 L427.0,207.12 L430.0,205.40 L433.0,203.70 L436.0,202.01 L439.0,200.35 L442.0,198.69 L445.0,197.05 L448.0,195.43 L451.0,193.82 L454.0,192.22 L457.0,190.63 L460.0,189.04 L463.0,187.47 L466.0,185.91 L469.0,184.35 L472.0,182.80 L475.0,181.26 L478.0,179.73 L481.0,178.20 L484.0,176.69 L487.0,175.18 L490.0,173.68 L493.0,172.19 L496.0,170.71 L499.0,169.24 L502.0,167.77 L505.0,166.32 L508.0,164.88 L511.0,163.46 L514.0,162.04 L517.0,160.63 L520.0,159.24 L523.0,157.86 L526.0,156.49 L529.0,155.14 L532.0,153.79 L535.0,152.46 L538.0,151.14 L541.0,149.84 L544.0,148.54 L547.0,147.26 L550.0,145.99 L553.0,144.73 L556.0,143.48 L559.0,142.25 L562.0,141.03 L565.0,139.81 L568.0,138.62 L571.0,137.43 L574.0,136.25 L577.0,135.09 L580.0,133.94 L583.0,132.80 L586.0,131.67 L589.0,130.55 L592.0,129.45 L595.0,128.36 L598.0,127.28 L601.0,126.22 L604.0,125.16 L607.0,124.13 L610.0,123.11 L613.0,122.10 L616.0,121.11 L619.0,120.13 L622.0,119.17 L625.0,118.23 L628.0,117.30 L631.0,116.39 L634.0,115.50 L637.0,114.63 L640.0,113.77 L643.0,112.94 L646.0,112.12 L649.0,111.32 L652.0,110.54 L655.0,109.79 L658.0,109.05 L661.0,108.33 L664.0,107.62 L667.0,106.94 L670.0,106.28 L673.0,105.63 L676.0,105.00 L679.0,104.40 L682.0,103.81 L685.0,103.23 L688.0,102.68 L691.0,102.14 L694.0,101.62 L697.0,101.12 L700.0,100.63 L703.0,100.16 L706.0,99.70 L709.0,99.26 L712.0,98.84 L715.0,98.43 L718.0,98.04 L721.0,97.66 L724.0,97.30 L727.0,96.96 L730.0,96.64 L733.0,96.33 L736.0,96.04 L739.0,95.77 L742.0,95.52 L745.0,95.28 L748.0,95.06 L751.0,94.86 L754.0,94.67 L757.0,94.50 L760.0,94.35 L763.0,94.22 L766.0,94.10 L769.0,94.00 L772.0,93.92 L775.0,93.85 L778.0,93.81 L781.0,93.77 L784.0,93.76 L785.0,93.76 L786.0,93.76" stroke="#008000"/>
<path d="M162.0,277.48 L163.0,277.48 L166.0,277.48 L169.0,277.48 L172.0,277.49 L175.0,277.49 L178.0,277.48 L181.0,277.48 L184.0,277.47 L187.0,277.46 L190.0,277.44 L193.0,277.41 L196.0,277.38 L199.0,277.34 L202.0,277.29 L205.0,277.23 L208.0,277.15 L211.0,277.07 L214.0,276.97 L217.0,276.85 L220.0,276.72 L223.0,276.58 L226.0,276.42 L229.0,276.24 L232.0,276.04 L235.0,275.82 L238.0,275.58 L241.0,275.32 L244.0,275.03 L247.0,274.72 L250.0,274.39 L253.0,274.03 L256.0,273.64 L259.0,273.23 L262.0,272.78 L265.0,272.30 L268.0,271.79 L271.0,271.25 L274.0,270.66 L277.0,270.04 L280.0,269.37 L283.0,268.66 L286.0,267.91 L289.0,267.12 L292.0,266.30 L295.0,265.44 L298.0,264.56 L301.0,263.66 L304.0,262.75 L307.0,261.83 L310.0,260.91 L313.0,259.99 L316.0,259.07 L319.0,258.16 L322.0,257.24 L325.0,256.33 L328.0,255.40 L331.0,254.47 L334.0,253.51 L337.0,252.55 L340.0,251.56 L343.0,250.54 L346.0,249.50 L349.0,248.43 L352.0,247.32 L355.0,246.19 L358.0,245.03 L361.0,243.83 L364.0,242.61 L367.0,241.35 L370.0,240.06 L373.0,238.74 L376.0,237.38 L379.0,235.99 L382.0,234.57 L385.0,233.11 L388.0,231.63 L391.0,230.11 L394.0,228.56 L397.0,226.99 L400.0,225.38 L403.0,223.75 L406.0,222.09 L409.0,220.41 L412.0,218.72 L415.0,217.01 L418.0,215.30 L421.0,213.59 L424.0,211.88 L427.0,210.18 L430.0,208.48 L433.0,206.81 L436.0,205.14 L439.0,203.50 L442.0,201.87 L445.0,200.25 L448.0,198.64 L451.0,197.05 L454.0,195.46 L457.0,193.89 L460.0,192.33 L463.0,190.77 L466.0,189.23 L469.0,187.69 L472.0,186.16 L475.0,184.64 L478.0,183.13 L481.0,181.63 L484.0,180.13 L487.0,178.65 L490.0,177.17 L493.0,175.71 L496.0,174.25 L499.0,172.81 L502.0,171.37 L505.0,169.95 L508.0,168.54 L511.0,167.14 L514.0,165.76 L517.0,164.38 L520.0,163.02 L523.0,161.67 L526.0,160.34 L529.0,159.02 L532.0,157.71 L535.0,156.41 L538.0,155.13 L541.0,153.86 L544.0,152.60 L547.0,151.35 L550.0,150.11 L553.0,148.89 L556.0,147.68 L559.0,146.48 L562.0,145.29 L565.0,144.11 L568.0,142.95 L571.0,141.79 L574.0,140.65 L577.0,139.52 L580.0,138.40 L583.0,137.29 L586.0,136.19 L589.0,135.10 L592.0,134.02 L595.0,132.96 L598.0,131.90 L601.0,130.86 L604.0,129.84 L607.0,128.82 L610.0,127.82 L613.0,126.84 L616.0,125.86 L619.0,124.91 L622.0,123.96 L625.0,123.04 L628.0,122.13 L631.0,121.23 L634.0,120.35 L637.0,119.49 L640.0,118.65 L643.0,117.83 L646.0,117.02 L649.0,116.24 L652.0,115.47 L655.0,114.72 L658.0,113.99 L661.0,113.28 L664.0,112.59 L667.0,111.91 L670.0,111.25 L673.0,110.62 L676.0,110.00 L679.0,109.39 L682.0,108.81 L685.0,108.24 L688.0,107.69 L691.0,107.16 L694.0,106.64 L697.0,106.14 L700.0,105.66 L703.0,105.19 L706.0,104.73 L709.0,104.29 L712.0,103.87 L715.0,103.46 L718.0,103.07 L721.0,102.69 L724.0,102.33 L727.0,101.99 L730.0,101.66 L733.0,101.35 L736.0,101.06 L739.0,100.79 L742.0,100.53 L745.0,100.29 L748.0,100.07 L751.0,99.86 L754.0,99.67 L757.0,99.50 L760.0,99.35 L763.0,99.21 L766.0,99.09 L769.0,98.99 L772.0,98.91 L775.0,98.84 L778.0,98.79 L781.0,98.76 L784.0,98.74 L785.0,98.74 L786.0,98.74" stroke="#ff00ff"/>
</g>
<g class="labels">
<text class="tick" x="152.9" y="514.30" text-anchor="end">0</text>
<text class="tick" x="152.9" y="448.06" text-anchor="end">1</text>
<text class="tick" x="152.9" y="381.81" text-anchor="end">2</text>
<text class="tick" x="152.9" y="315.57" text-anchor="end">3</text>
<text class="tick" x="152.9" y="249.33" text-anchor="end">4</text>
<text class="tick" x="152.9" y="183.09" text-anchor="end">5</text>
<text class="tick" x="152.9" y="116.84" text-anchor="end">6</text>
<text class="tick" x="152.9" y="50.60" text-anchor="end">7</text>
<text class="tick" x="163.00" y="541.8" text-anchor="middle">0.00</text>
<text class="tick" x="318.50" y="541.8" text-anchor="middle">0.25</text>
<text class="tick" x="474.00" y="541.8" text-anchor="middle">0.50</text>
<text class="tick" x="629.50" y="541.8" text-anchor="middle">0.75</text>
<text class="tick" x="785.00" y="541.8" text-anchor="middle">1.00</text>
<text class="leg" x="186.6" y="68.2">ε <tspan dy="2.4" style="stroke:#000;stroke-width:0.3">=</tspan><tspan dy="-2.4"> 1</tspan></text>
<text class="leg" x="222.0" y="112.5" style="fill:#ff0000">1.5</text>
<text class="leg" x="221.9" y="158.3" style="fill:#0000ff">2</text>
<text class="leg" x="221.9" y="203.4" style="fill:#ff00ff">2.5</text>
<text class="leg" x="221.9" y="248.2" style="fill:#008000">2.75</text>
<text class="ann" x="526.3" y="96.5">TO-mode</text>
<text class="ann" x="435.6" y="257.2">paramagnon-branch</text>
<text class="ann" x="590.2" y="422.4">TA-mode</text>
<text class="ann" x="190.2" y="408.7">(a)</text>
<text class="ttl" x="474" y="599.1" text-anchor="middle">q (100)</text>
<text class="ttl" transform="translate(84.3,268.2) rotate(-90)" text-anchor="middle">ω/2π (THz)</text>
</g>
</svg>
</body>
</html>
